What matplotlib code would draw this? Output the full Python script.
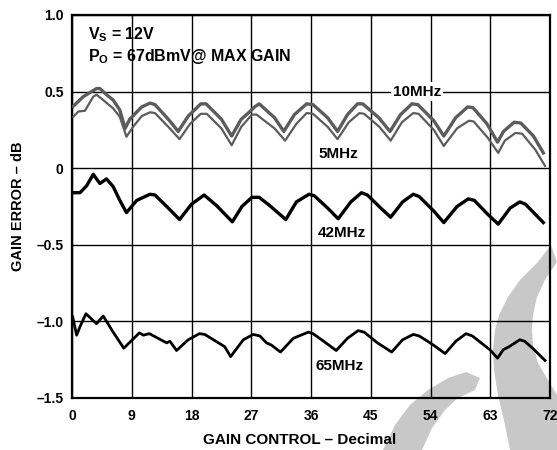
import matplotlib
matplotlib.use("Agg")
import matplotlib.pyplot as plt
from matplotlib.patches import Polygon

plt.rcParams['font.family'] = ['Liberation Sans', 'DejaVu Sans']
plt.rcParams['font.weight'] = 'bold'
plt.rcParams['mathtext.fontset'] = 'custom'
plt.rcParams['mathtext.rm'] = 'Liberation Sans:bold'
plt.rcParams['mathtext.bf'] = 'Liberation Sans:bold'
plt.rcParams['mathtext.default'] = 'bf'

# gain error curves
f10_x = [0.2, 1.7, 3.7, 4.2, 5.2, 6.2, 7.2, 8.0, 8.7, 10.5, 11.75, 12.5, 14.5, 16.0, 17.5,
         19.4, 20.2, 22.5, 24.05, 25.5, 26.55, 27.5, 28.2, 30.5, 31.9, 33.5, 35.35, 36.3,
         38.5, 40.0, 41.5, 43.0, 43.8, 46.2, 47.9, 49.5, 51.2, 52.1, 54.5, 56.0, 57.8,
         59.6, 60.4, 62.5, 64.1, 65.0, 66.6, 67.6, 69.5, 71.0]
f10_y = [0.405, 0.467, 0.52, 0.52, 0.48, 0.445, 0.38, 0.26, 0.32, 0.40, 0.425, 0.415, 0.32,
         0.24, 0.34, 0.42, 0.42, 0.32, 0.21, 0.32, 0.36, 0.40, 0.42, 0.33, 0.24, 0.35, 0.42,
         0.415, 0.33, 0.24, 0.35, 0.42, 0.42, 0.33, 0.24, 0.35, 0.42, 0.415, 0.31, 0.21,
         0.33, 0.40, 0.395, 0.29, 0.17, 0.24, 0.30, 0.295, 0.21, 0.10]

f5_x = [0.2, 0.95, 1.95, 3.2, 3.7, 4.7, 6.2, 7.2, 8.2, 9.2, 10.5, 11.75, 12.5, 14.5, 16.2,
        17.8, 19.4, 20.3, 22.5, 24.05, 25.5, 27.1, 27.8, 30.5, 32.1, 33.8, 35.35, 36.3,
        38.5, 40.0, 41.7, 43.3, 44.0, 46.3, 48.0, 49.7, 51.4, 52.2, 54.5, 56.0, 58.0,
        59.8, 60.5, 62.6, 64.2, 65.2, 66.8, 67.8, 69.8, 71.25]
f5_y = [0.336, 0.37, 0.375, 0.467, 0.48, 0.445, 0.39, 0.336, 0.205, 0.27, 0.34, 0.365,
        0.36, 0.27, 0.19, 0.29, 0.355, 0.355, 0.26, 0.15, 0.27, 0.35, 0.35, 0.26, 0.18,
        0.29, 0.36, 0.355, 0.27, 0.19, 0.30, 0.36, 0.355, 0.27, 0.18, 0.30, 0.36, 0.355,
        0.25, 0.145, 0.26, 0.31, 0.305, 0.20, 0.10, 0.18, 0.23, 0.225, 0.12, 0.015]

f42_x = [0.2, 1.2, 2.2, 3.2, 4.2, 5.2, 6.2, 7.2, 8.2, 9.75, 11.75, 12.5, 14.5, 16.2, 18.0,
         19.9, 21.8, 24.15, 25.6, 27.1, 28.2, 29.8, 32.2, 33.8, 35.7, 36.5, 38.5, 40.1,
         42.0, 43.6, 44.5, 46.5, 48.0, 49.8, 51.4, 52.3, 54.5, 56.0, 58.0, 59.7, 60.6,
         62.6, 64.2, 66.0, 67.45, 68.3, 71.0]
f42_y = [-0.16, -0.16, -0.115, -0.04, -0.10, -0.07, -0.12, -0.21, -0.29, -0.21, -0.17,
         -0.175, -0.26, -0.335, -0.235, -0.175, -0.245, -0.35, -0.25, -0.19, -0.19, -0.245,
         -0.335, -0.22, -0.17, -0.18, -0.26, -0.33, -0.22, -0.16, -0.175, -0.26, -0.32,
         -0.22, -0.17, -0.185, -0.28, -0.355, -0.25, -0.20, -0.21, -0.30, -0.365, -0.26,
         -0.22, -0.235, -0.355]

f65_x = [0.1, 0.7, 1.2, 2.1, 3.7, 4.7, 6.2, 7.8, 10.15, 10.75, 11.65, 14.25, 14.75, 15.75,
         17.5, 19.2, 20.0, 23.0, 23.9, 25.8, 27.3, 28.3, 29.3, 30.05, 31.4, 33.35, 35.6,
         36.3, 37.6, 39.8, 41.5, 43.1, 44.0, 46.0, 48.15, 49.8, 51.4, 52.3, 54.3, 56.2,
         57.8, 59.35, 60.3, 62.95, 64.1, 64.95, 65.85, 67.45, 68.2, 69.5, 71.25]
f65_y = [-0.97, -1.09, -1.035, -0.95, -1.015, -0.965, -1.07, -1.175, -1.075, -1.09, -1.08,
         -1.14, -1.13, -1.19, -1.12, -1.08, -1.085, -1.165, -1.23, -1.12, -1.085, -1.095,
         -1.14, -1.155, -1.20, -1.11, -1.07, -1.08, -1.12, -1.19, -1.11, -1.06, -1.07,
         -1.14, -1.20, -1.12, -1.085, -1.095, -1.15, -1.21, -1.13, -1.08, -1.095, -1.185,
         -1.24, -1.185, -1.165, -1.12, -1.13, -1.18, -1.255]

x_ticks = [0, 9, 18, 27, 36, 45, 54, 63, 72]
y_ticks = [1.0, 0.5, 0, -0.5, -1.0, -1.5]
y_ticklabels = ['1.0', '0.5', '0', '–0.5', '–1.0', '–1.5']

fig = plt.figure(figsize=(5.57, 4.5), dpi=100)

# faint watermark behind the plot (pixel coords, y from the top)
bg = fig.add_axes([0, 0, 1, 1], zorder=0)
bg.set_xlim(0, 557)
bg.set_ylim(450, 0)
bg.axis('off')
arc_right = [(551, 245), (537, 263), (520, 280), (508, 297), (499, 315), (495, 330),
             (493, 350), (494, 370), (498, 395), (505, 425), (510, 450), (600, 450),
             (600, 400), (557, 395), (548, 380), (538, 363), (533, 345), (532, 330),
             (533, 315), (537, 297), (545, 280), (557, 262)]
arc_low = [(383, 450), (395, 425), (410, 405), (428, 390), (448, 378), (466, 372),
           (480, 378), (475, 390), (458, 398), (445, 410), (432, 428), (422, 450)]
bg.add_patch(Polygon(arc_right, closed=True, color='#c8c8c8', lw=0))
bg.add_patch(Polygon(arc_low, closed=True, color='#c8c8c8', lw=0))

ax = fig.add_axes([72/557, 52/450, 478/557, 383/450], zorder=1)
ax.set_facecolor('none')

ax.plot(f10_x, f10_y, color='#5c5c5c', lw=2.4, zorder=3)
ax.plot(f5_x, f5_y, color='#5c5c5c', lw=1.6, zorder=3)
ax.plot(f42_x, f42_y, color='black', lw=2.4, zorder=3)
ax.plot(f65_x, f65_y, color='black', lw=2.0, zorder=3)

ax.set_xlim(0, 72)
ax.set_ylim(-1.5, 1.0)
ax.set_xticks(x_ticks)
ax.set_yticks(y_ticks)
ax.set_yticklabels(y_ticklabels)
ax.tick_params(length=0, labelsize=10)
ax.tick_params(axis='x', pad=8)
ax.tick_params(axis='y', pad=6)
ax.grid(True, color='black', lw=1.0, zorder=1)
for s in ax.spines.values():
    s.set_linewidth(1.6)

ax.set_xlabel('GAIN CONTROL – Decimal', fontsize=11, fontweight='bold')
ax.set_ylabel('GAIN ERROR – dB', fontsize=10.5, fontweight='bold')
ax.xaxis.set_label_coords(0.477, -0.0914)
ax.yaxis.set_label_coords(-0.098, 0.5)

box = dict(facecolor='white', edgecolor='none', pad=1.5)
ax.text(52.0, 0.5, '10MHz', fontsize=11, ha='center', va='center', bbox=box, zorder=4)
ax.text(40.1, 0.093, '5MHz', fontsize=11, ha='center', va='center', bbox=box, zorder=4)
ax.text(40.6, -0.42, '42MHz', fontsize=11, ha='center', va='center', bbox=box, zorder=4)
ax.text(40.3, -1.29, '65MHz', fontsize=11, ha='center', va='center', bbox=box, zorder=4)

ax.text(2.4, 0.87, r'V$_{S}$ = 12V', fontsize=11.5, ha='left', va='center')
ax.text(2.4, 0.726, r'P$_{O}$ = 67dBmV@ MAX GAIN', fontsize=11.5, ha='left', va='center')

fig.savefig('out.png', dpi=100)
